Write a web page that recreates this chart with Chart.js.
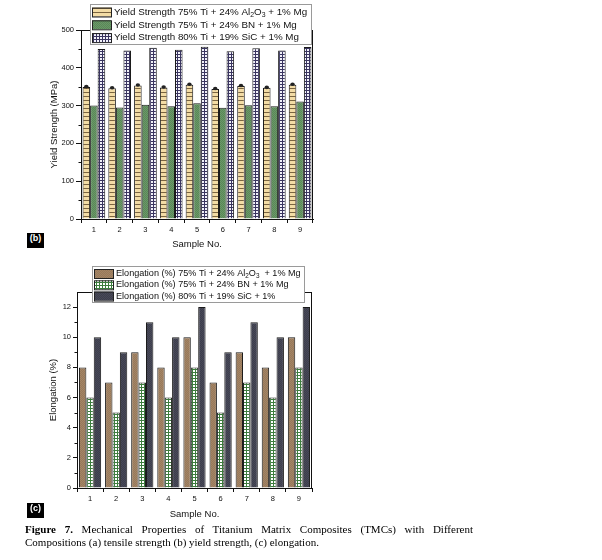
<!DOCTYPE html>
<html>
<head>
<meta charset="utf-8">
<script src="https://cdn.jsdelivr.net/npm/chart.js@4.4.0/dist/chart.umd.min.js"></script>
<style>
  body { margin: 0; background: #fff; width: 602px; height: 560px; position: relative; overflow: hidden; font-family: Arial, "Liberation Sans", sans-serif; }
  #yieldWrap { position: absolute; left: 0; top: 0; }
  #elongWrap { position: absolute; left: 0; top: 255px; }
  .panel-tag { position: absolute; left: 27px; width: 17px; height: 15px; line-height: 15px; background: #000; color: #fff; font: bold 9px Arial, sans-serif; text-align: center; }
  .caption { position: absolute; left: 25px; width: 448px; height: 13px; line-height: 13px; font: 11px "Liberation Serif", "Times New Roman", serif; color: #000; white-space: nowrap; }
  .caption.just { text-align: justify; text-align-last: justify; white-space: normal; }
</style>
</head>
<body>
<div id="yieldWrap"><canvas id="yieldChart" width="340" height="255"></canvas></div>
<div id="elongWrap"><canvas id="elongChart" width="340" height="265"></canvas></div>
<div class="panel-tag" style="top:233px">(b)</div>
<div class="panel-tag" style="top:503px">(c)</div>
<div class="caption just" style="top:523px"><b>Figure 7.</b> Mechanical Properties of Titanium Matrix Composites (TMCs) with Different</div>
<div class="caption" style="top:536px">Compositions (a) tensile strength (b) yield strength, (c) elongation.</div>

<script>
// Data
const samples = ['1', '2', '3', '4', '5', '6', '7', '8', '9'];

const yieldAl2O3 = [349, 346, 353, 348, 355, 344, 352, 347, 355];
const yieldBN    = [300, 295, 302, 298, 306, 294, 301, 298, 311];
const yieldSiC   = [450, 446, 453, 448, 456, 444, 452, 446, 455];
const yieldTicks = [0, 100, 200, 300, 400, 500];

const elongAl2O3 = [8, 7, 9, 8, 10, 7, 9, 8, 10];
const elongBN    = [6, 5, 7, 6, 8, 5, 7, 6, 8];
const elongSiC   = [10, 9, 11, 10, 12, 9, 11, 10, 12];
const elongTicks = [0, 2, 4, 6, 8, 10, 12];

// "_" marks a subscript digit
const yieldLabels = [
    'Yield Strength 75% Ti + 24% Al_2O_3 + 1% Mg',
    'Yield Strength 75% Ti + 24% BN + 1% Mg',
    'Yield Strength 80% Ti + 19% SiC + 1% Mg'
];
const elongLabels = [
    'Elongation (%) 75% Ti + 24% Al_2O_3  + 1% Mg',
    'Elongation (%) 75% Ti + 24% BN + 1% Mg',
    'Elongation (%) 80% Ti + 19% SiC + 1%'
];

// Fill patterns
function makePattern(w, h, draw) {
    const c = document.createElement('canvas');
    c.width = w; c.height = h;
    const g = c.getContext('2d');
    draw(g);
    return g.createPattern(c, 'repeat');
}

const tanStripes = makePattern(4, 4, g => {
    g.fillStyle = '#f3dca5'; g.fillRect(0, 0, 4, 4);
    g.fillStyle = '#7a6440'; g.fillRect(0, 0, 4, 1);
});
const greenFill = makePattern(2, 2, g => {
    g.fillStyle = '#6a9868'; g.fillRect(0, 0, 2, 2);
    g.fillStyle = '#5a8858'; g.fillRect(0, 0, 1, 1); g.fillRect(1, 1, 1, 1);
});
const navyGrid = makePattern(3, 3, g => {
    g.fillStyle = '#f2f2fa'; g.fillRect(0, 0, 3, 3);
    g.fillStyle = '#3a3560'; g.fillRect(0, 0, 3, 1); g.fillRect(0, 0, 1, 3);
});
const brownFill = makePattern(2, 2, g => {
    g.fillStyle = '#a38566'; g.fillRect(0, 0, 2, 2);
    g.fillStyle = '#98795a'; g.fillRect(0, 0, 1, 1); g.fillRect(1, 1, 1, 1);
});
const greenGrid = makePattern(3, 3, g => {
    g.fillStyle = '#ffffff'; g.fillRect(0, 0, 3, 3);
    g.fillStyle = '#3d7d3d'; g.fillRect(0, 0, 3, 1); g.fillRect(0, 0, 1, 3);
});
const slateFill = makePattern(2, 2, g => {
    g.fillStyle = '#484958'; g.fillRect(0, 0, 2, 2);
    g.fillStyle = '#3d3e4c'; g.fillRect(0, 0, 1, 1); g.fillRect(1, 1, 1, 1);
});

// Frame, minor ticks, error caps and the boxed legend drawn over the plot
const figurePlugin = {
    id: 'figure',
    afterDraw(chart, args, opts) {
        const { ctx, chartArea: a } = chart;
        ctx.save();
        ctx.strokeStyle = '#111';
        ctx.lineWidth = 1;
        ctx.beginPath();
        ctx.moveTo(a.left, a.top + 0.5); ctx.lineTo(a.right, a.top + 0.5);
        ctx.moveTo(a.right - 0.5, a.top); ctx.lineTo(a.right - 0.5, a.bottom);
        // minor ticks on y
        const y = chart.scales.y;
        for (let v = y.min + opts.minorStep; v < y.max; v += opts.minorStep * 2) {
            const py = Math.round(y.getPixelForValue(v)) + 0.5;
            ctx.moveTo(a.left - 2.5, py); ctx.lineTo(a.left, py);
        }
        ctx.stroke();

        // small error caps on the first series
        if (opts.caps) {
            ctx.fillStyle = '#222';
            chart.getDatasetMeta(0).data.forEach(el => {
                ctx.beginPath();
                ctx.ellipse(el.x, el.y - 0.5, 2.2, 1.8, 0, 0, Math.PI * 2);
                ctx.fill();
            });
        }

        // legend box
        const L = opts.legend;
        ctx.fillStyle = '#fff';
        ctx.fillRect(L.x, L.y, L.w, L.h);
        ctx.strokeStyle = '#9a9a9a';
        ctx.strokeRect(L.x + 0.5, L.y + 0.5, L.w, L.h);
        chart.data.datasets.forEach((ds, i) => {
            const cy = L.y + L.first + i * L.row;
            ctx.fillStyle = ds.backgroundColor;
            ctx.fillRect(L.x + 2, cy - 4.5, 19, 9);
            ctx.strokeStyle = '#222';
            ctx.strokeRect(L.x + 2.5, cy - 4, 19, 9);
            drawRich(ctx, opts.labels[i], L.x + 24, cy, L.font);
        });
        ctx.restore();
    }
};

function drawRich(ctx, text, x, y, size) {
    ctx.fillStyle = '#111';
    ctx.textBaseline = 'middle';
    ctx.textAlign = 'left';
    let i = 0;
    while (i < text.length) {
        if (text[i] === '_') {
            ctx.font = (size * 0.7) + 'px Arial, "Liberation Sans", sans-serif';
            ctx.fillText(text[i + 1], x, y + 3);
            x += ctx.measureText(text[i + 1]).width;
            i += 2;
        } else {
            let j = text.indexOf('_', i);
            if (j < 0) j = text.length;
            const part = text.slice(i, j);
            ctx.font = size + 'px Arial, "Liberation Sans", sans-serif';
            ctx.fillText(part, x, y);
            x += ctx.measureText(part).width;
            i = j;
        }
    }
}

const tickFont = { family: 'Arial, "Liberation Sans", sans-serif', size: 7.5 };
const titleFont = { family: 'Arial, "Liberation Sans", sans-serif', size: 9.5, lineHeight: 1 };

function axes(opts) {
    return {
        x: {
            grid: { drawOnChartArea: false, offset: true, color: '#111', tickLength: 4 },
            border: { color: '#111' },
            ticks: { font: tickFont, color: '#111', padding: 2, maxRotation: 0 },
            title: { display: true, text: 'Sample No.', font: titleFont, color: '#111', padding: 0 },
            afterFit: s => { s.height = opts.xHeight; }
        },
        y: {
            min: opts.min,
            max: opts.max,
            afterBuildTicks: s => { s.ticks = opts.ticks.map(v => ({ value: v })); },
            grid: { drawOnChartArea: false, color: '#111', tickLength: opts.tickLen },
            border: { color: '#111' },
            ticks: { font: tickFont, color: '#111', padding: 2 },
            title: { display: true, text: opts.title, font: titleFont, color: '#111', padding: { top: opts.titlePad, bottom: 0 } },
            afterFit: s => { s.width = opts.yWidth; }
        }
    };
}

function barSet(label, data, fill, cat) {
    return {
        label: label,
        data: data,
        backgroundColor: fill,
        borderColor: '#1a1a1a',
        borderWidth: 1,
        categoryPercentage: cat,
        barPercentage: 1
    };
}

new Chart(document.getElementById('yieldChart'), {
    type: 'bar',
    data: {
        labels: samples,
        datasets: [
            barSet(yieldLabels[0], yieldAl2O3, tanStripes, 0.88),
            barSet(yieldLabels[1], yieldBN, greenFill, 0.88),
            barSet(yieldLabels[2], yieldSiC, navyGrid, 0.88)
        ]
    },
    options: {
        responsive: false,
        animation: false,
        layout: { padding: { left: 0, top: 30, right: 27, bottom: 6 } },
        plugins: {
            legend: { display: false },
            tooltip: { enabled: false },
            figure: {
                minorStep: 50,
                caps: true,
                labels: yieldLabels,
                legend: { x: 90, y: 4, w: 221, h: 40, first: 8, row: 12.8, font: 9.8 }
            }
        },
        scales: axes({ min: 0, max: 500, ticks: yieldTicks, title: 'Yield Strength (MPa)', xHeight: 30, yWidth: 81, tickLen: 5, titlePad: 50 })
    },
    plugins: [figurePlugin]
});

new Chart(document.getElementById('elongChart'), {
    type: 'bar',
    data: {
        labels: samples,
        datasets: [
            barSet(elongLabels[0], elongAl2O3, brownFill, 0.85),
            barSet(elongLabels[1], elongBN, greenGrid, 0.85),
            barSet(elongLabels[2], elongSiC, slateFill, 0.85)
        ]
    },
    options: {
        responsive: false,
        animation: false,
        layout: { padding: { left: 0, top: 37, right: 28, bottom: 1 } },
        plugins: {
            legend: { display: false },
            tooltip: { enabled: false },
            figure: {
                minorStep: 1,
                caps: false,
                labels: elongLabels,
                legend: { x: 92, y: 11, w: 212, h: 36, first: 7.5, row: 11.3, font: 9.1 }
            }
        },
        scales: axes({ min: 0, max: 13, ticks: elongTicks, title: 'Elongation (%)', xHeight: 31, yWidth: 77, tickLen: 4, titlePad: 49 })
    },
    plugins: [figurePlugin]
});
</script>
</body>
</html>
